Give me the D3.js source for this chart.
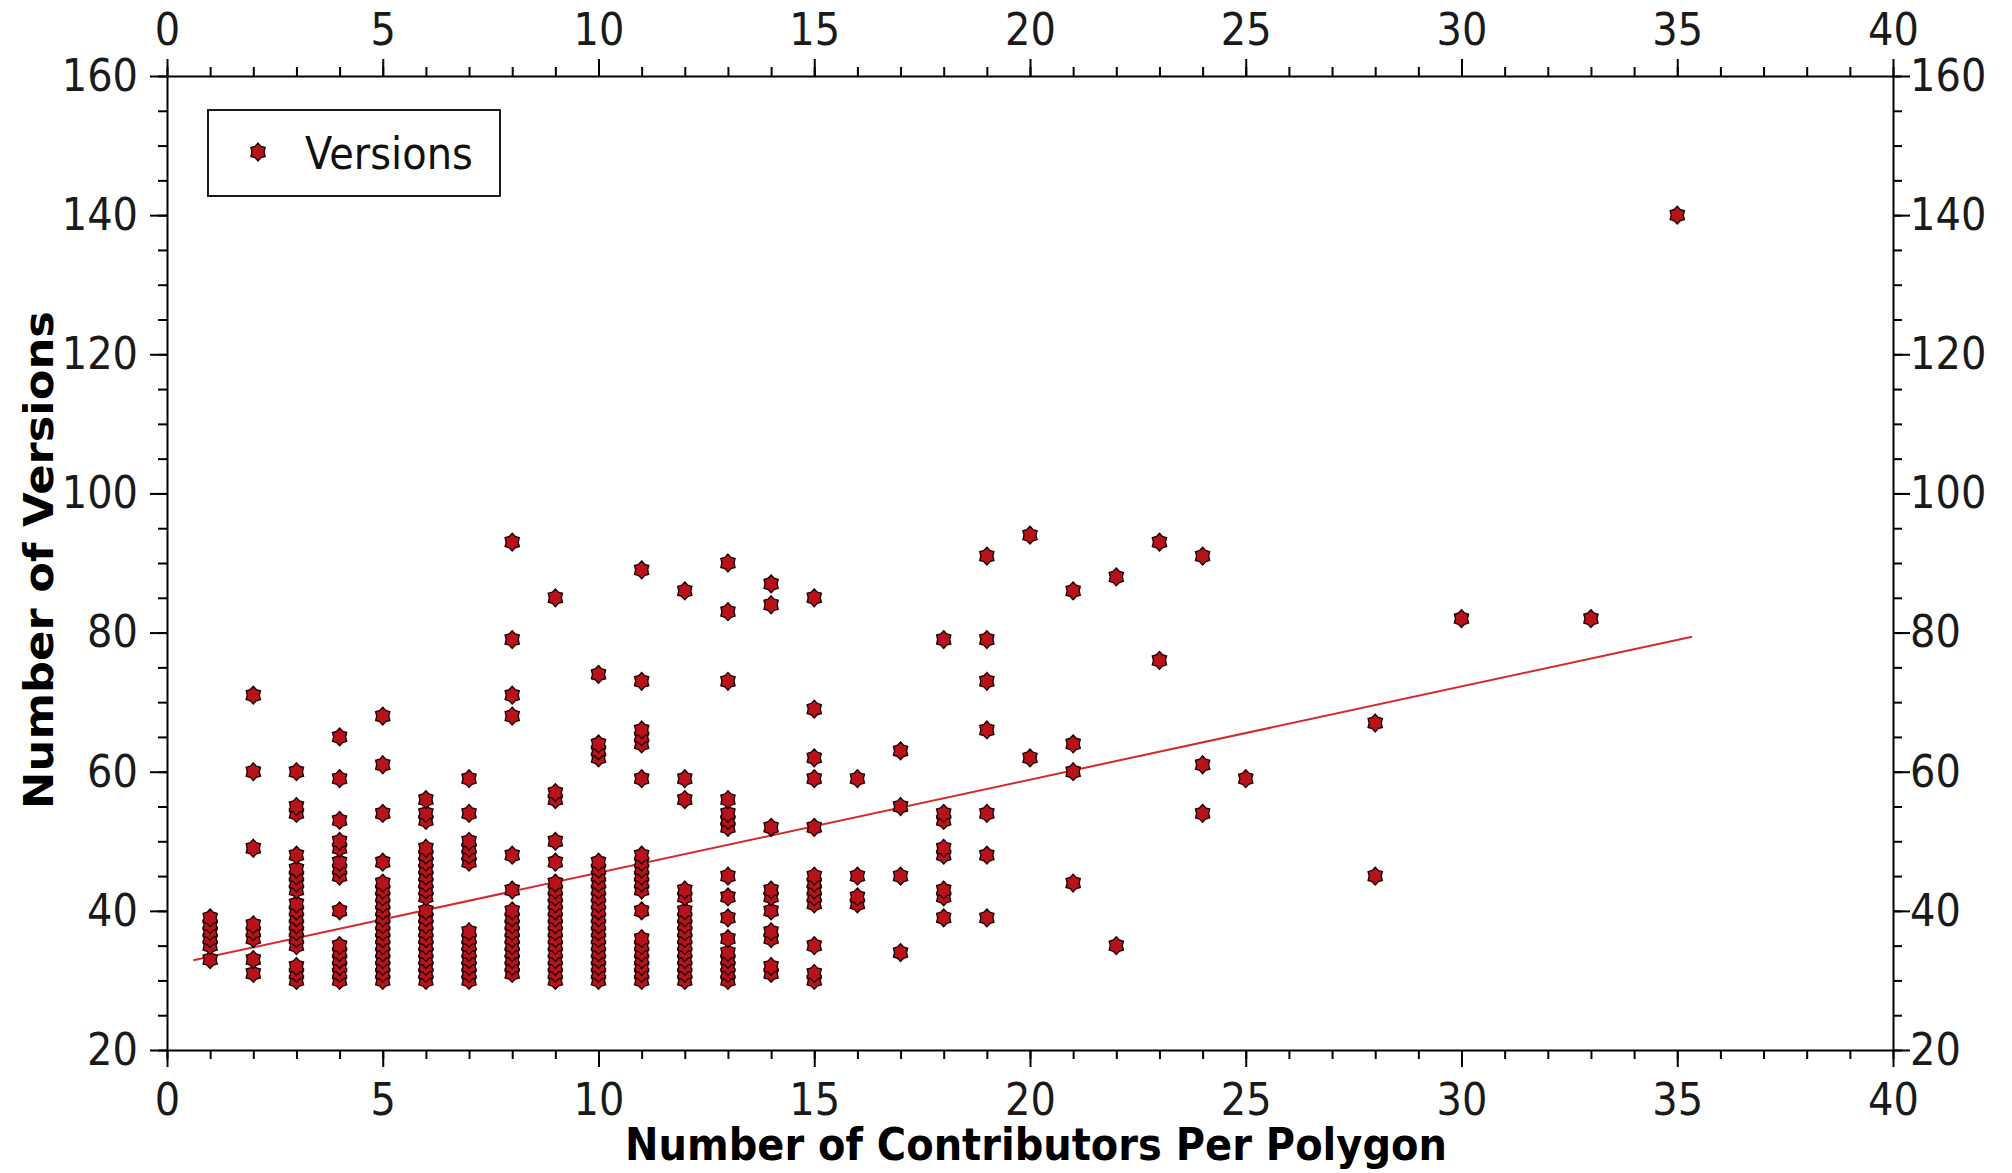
<!DOCTYPE html>
<html><head><meta charset="utf-8">
<script src="https://cdn.jsdelivr.net/npm/d3@7"></script>
<style>
html,body{margin:0;padding:0;background:#fff;}
svg{display:block;}
</style></head><body>
<svg id="chart" width="2012" height="1173"></svg>
<script>
// ---------- data ----------
const contributors = [1,2,3,4,5,6,7,8,9,10,11,12,13,14,15,16,17,18,19,20,21,22,23,24,25,28,30,33,35];
const versionsByContributors = [
  [33,35,36,37,38,39],
  [31,33,36,37,38,49,60,71],
  [30,31,32,35,36,37,38,39,40,41,43,44,45,46,48,54,55,60],
  [30,31,32,33,34,35,40,45,46,47,49,50,53,59,65],
  [30,31,32,33,34,35,36,37,38,39,40,41,42,43,44,47,54,61,68],
  [30,31,32,33,34,35,36,37,38,39,40,42,43,44,45,46,47,48,49,53,54,56],
  [30,31,32,33,34,35,36,37,47,48,49,50,54,59],
  [31,32,33,34,35,36,37,38,39,40,43,48,68,71,79,93],
  [30,31,32,33,34,35,36,37,38,39,40,41,42,43,44,47,50,56,57,85],
  [30,31,32,33,34,35,36,37,38,39,40,41,42,43,44,45,46,47,62,63,64,74],
  [30,31,32,33,34,35,36,40,43,44,45,46,47,48,59,64,65,66,73,89],
  [30,31,32,33,34,35,36,37,38,39,40,42,43,56,59,86],
  [30,31,32,33,34,36,39,42,45,52,53,54,56,73,83,90],
  [31,32,36,37,40,42,43,52,84,87],
  [30,31,35,41,42,43,44,45,52,59,62,69,85],
  [41,42,45,59],
  [34,45,55,63],
  [39,42,43,48,49,53,54,79],
  [39,48,54,66,73,79,91],
  [62,94],
  [44,60,64,86],
  [35,88],
  [76,93],
  [54,61,91],
  [59],
  [45,67],
  [82],
  [82],
  [140]
];
const fitLineX = [0.61, 35.34];
const fitLineY = [32.9, 79.4];
const xTickValues = [0,5,10,15,20,25,30,35,40];
const yTickValues = [20,40,60,80,100,120,140,160];
const seriesName = "Versions";
const xTitle = "Number of Contributors Per Polygon";
const yTitle = "Number of Versions";

// ---------- layout ----------
const L = 167, R = 1893, T = 76, B = 1050;
const VS = 1.12; // vertical text stretch of the original
const FONT = "'DejaVu Sans', sans-serif";
const svg = d3.select("#chart");

const x = d3.scaleLinear().domain([0,40]).range([L,R]);
const y = d3.scaleLinear().domain([20,160]).range([B,T]);

const points = [];
contributors.forEach((c,i)=>versionsByContributors[i].forEach(v=>points.push({x:c,y:v})));

// star (hexagram) path
function starPath(ro, ri, sy){
  const pts=[];
  for(let k=0;k<12;k++){
    const a = -Math.PI/2 + k*Math.PI/6;
    const r = k%2===0 ? ro : ri;
    pts.push([r*Math.cos(a), r*Math.sin(a)*sy]);
  }
  return "M"+pts.map(p=>p[0].toFixed(2)+","+p[1].toFixed(2)).join("L")+"Z";
}
const STAR = starPath(8.2, 6.0, 1.08);
const FILL = "#b8121a", STROKE = "#220404";

// ---------- axes ----------
const MAJ = 17, MIN = 9;
function styleAxis(g){
  g.select(".domain").attr("stroke","#000").attr("stroke-width",2);
  g.selectAll(".tick line").attr("stroke","#000").attr("stroke-width",2);
  g.selectAll(".tick text").attr("fill","#1a1a1a").style("font-family",FONT).style("font-size","40px")
    .attr("transform",`scale(1,${VS})`);
}
function minor(g){
  g.select(".domain").remove();
  g.selectAll("line").attr("stroke","#000").attr("stroke-width",2);
}
svg.append("g").attr("transform",`translate(0,${B})`).call(d3.axisBottom(x).ticks(40).tickSize(MIN).tickFormat("")).call(minor);
svg.append("g").attr("transform",`translate(0,${T})`).call(d3.axisTop(x).ticks(40).tickSize(MIN).tickFormat("")).call(minor);
svg.append("g").attr("transform",`translate(${L},0)`).call(d3.axisLeft(y).tickValues(d3.range(20,161,5)).tickSize(MIN).tickFormat("")).call(minor);
svg.append("g").attr("transform",`translate(${R},0)`).call(d3.axisRight(y).tickValues(d3.range(20,161,5)).tickSize(MIN).tickFormat("")).call(minor);

svg.append("g").attr("transform",`translate(0,${B})`)
  .call(d3.axisBottom(x).tickValues(xTickValues).tickSize(MAJ).tickSizeOuter(0).tickPadding(13))
  .call(styleAxis);
svg.append("g").attr("transform",`translate(0,${T})`)
  .call(d3.axisTop(x).tickValues(xTickValues).tickSize(MAJ).tickSizeOuter(0).tickPadding(10.7))
  .call(styleAxis);
svg.append("g").attr("transform",`translate(${L},0)`)
  .call(d3.axisLeft(y).tickValues(yTickValues).tickSize(MAJ).tickSizeOuter(0).tickPadding(12))
  .call(styleAxis);
svg.append("g").attr("transform",`translate(${R},0)`)
  .call(d3.axisRight(y).tickValues(yTickValues).tickSize(MAJ).tickSizeOuter(0).tickPadding(0))
  .call(styleAxis);

// ---------- fit line ----------
svg.append("line")
  .attr("x1",x(fitLineX[0])).attr("y1",y(fitLineY[0]))
  .attr("x2",x(fitLineX[1])).attr("y2",y(fitLineY[1]))
  .attr("stroke","#d42a2e").attr("stroke-width",2);

// ---------- points ----------
svg.append("g").selectAll("path").data(points).join("path")
  .attr("d",STAR)
  .attr("transform",d=>`translate(${x(d.x)},${y(d.y)})`)
  .attr("fill",FILL).attr("stroke",STROKE).attr("stroke-width",1.4);

// ---------- legend ----------
const lg = svg.append("g");
lg.append("rect").attr("x",208).attr("y",110).attr("width",292).attr("height",86)
  .attr("fill","#fff").attr("stroke","#000").attr("stroke-width",1.8);
lg.append("path").attr("d",STAR).attr("transform","translate(258,152)")
  .attr("fill",FILL).attr("stroke",STROKE).attr("stroke-width",1.4);
lg.append("text").attr("transform",`translate(305,169) scale(1,${VS})`)
  .style("font-family",FONT).style("font-size","40px").attr("fill","#111").text(seriesName);

// ---------- titles ----------
svg.append("text").attr("transform",`translate(${(L+R)/2+6},1160) scale(1,${VS})`)
  .attr("text-anchor","middle").style("font-family",FONT).style("font-size","40px").style("font-weight","bold")
  .attr("fill","#000").text(xTitle);
svg.append("text").attr("transform",`translate(53,${(T+B)/2-3}) rotate(-90) scale(${VS},1)`)
  .attr("text-anchor","middle").style("font-family",FONT).style("font-size","40px").style("font-weight","bold")
  .attr("fill","#000").text(yTitle);
</script>
</body></html>
